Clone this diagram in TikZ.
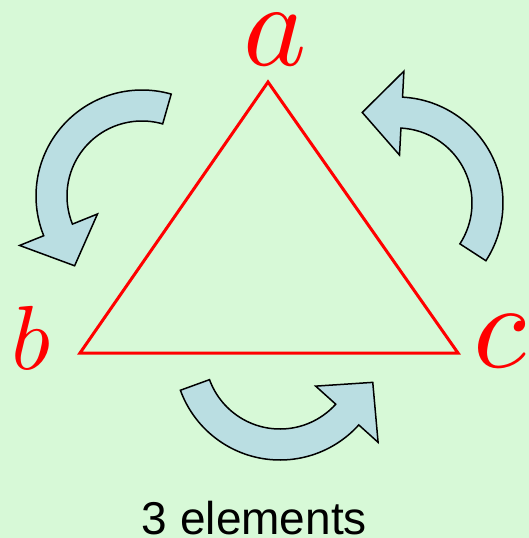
\documentclass[tikz,border=0pt]{standalone}
\usepackage{graphicx}
\usepackage{fontspec}
\newfontfamily\labelsans{Liberation Sans}
\definecolor{bgGreen}{RGB}{215,249,215}
\definecolor{arrowBlue}{RGB}{186,222,226}
\definecolor{triRed}{RGB}{255,0,0}
\def\arOut{106}
\def\arIn{75}
\def\arBo{132}
\def\arBi{48}
\def\arTip{97}
% #1 cx, #2 cy, #3 tail angle, #4 body end angle, #5 tip angle (pixel coords, y down)
\newcommand{\rotarrow}[5]{%
  \draw[rotarr] plot[domain=#3:#4, samples=90] ({#1+\arOut*cos(\x)},{#2+\arOut*sin(\x)})
    -- ({#1+\arBo*cos(#4)},{#2+\arBo*sin(#4)})
    -- ({#1+\arTip*cos(#5)},{#2+\arTip*sin(#5)})
    -- ({#1+\arBi*cos(#4)},{#2+\arBi*sin(#4)})
    -- plot[domain=#4:#3, samples=90] ({#1+\arIn*cos(\x)},{#2+\arIn*sin(\x)})
    -- cycle;}
\tikzset{
  rotarr/.style={fill=arrowBlue, draw=black, line width=1.5pt, line join=miter},
  tri/.style={draw=triRed, line width=3pt, line join=miter},
  vlabel/.style={text=triRed, inner sep=0pt, anchor=base},
  caption/.style={inner sep=0pt, anchor=base, font=\labelsans\fontsize{46}{46}\selectfont}
}
\begin{document}
\begin{tikzpicture}[x=1pt, y=-1pt]
  \useasboundingbox (0,0) rectangle (529,538);
  \fill[bgGreen] (0,0) rectangle (529,538);
  % triangle vertices
  \coordinate (a) at (268,82);
  \coordinate (b) at (80,353);
  \coordinate (c) at (458,353);
  \draw[tri] (a) -- (b) -- (c) -- cycle;
  % vertex labels
  \node[vlabel] (la) at (275,65) {\scalebox{12}{$a$}};
  \node[vlabel] (lb) at (31,369) {\scalebox{9.1}{$b$}};
  \node[vlabel] (lc) at (500,367) {\scalebox{12.2}{$c$}};
  % rotation arrows
  \rotarrow{142}{196}{286}{158}{134}
  \rotarrow{397}{203}{33}{-87}{-111}
  \rotarrow{280}{354}{160}{42}{17}
  % caption
  \node[caption] (cap) at (254.5,534) {3 elements};
\end{tikzpicture}
\end{document}
